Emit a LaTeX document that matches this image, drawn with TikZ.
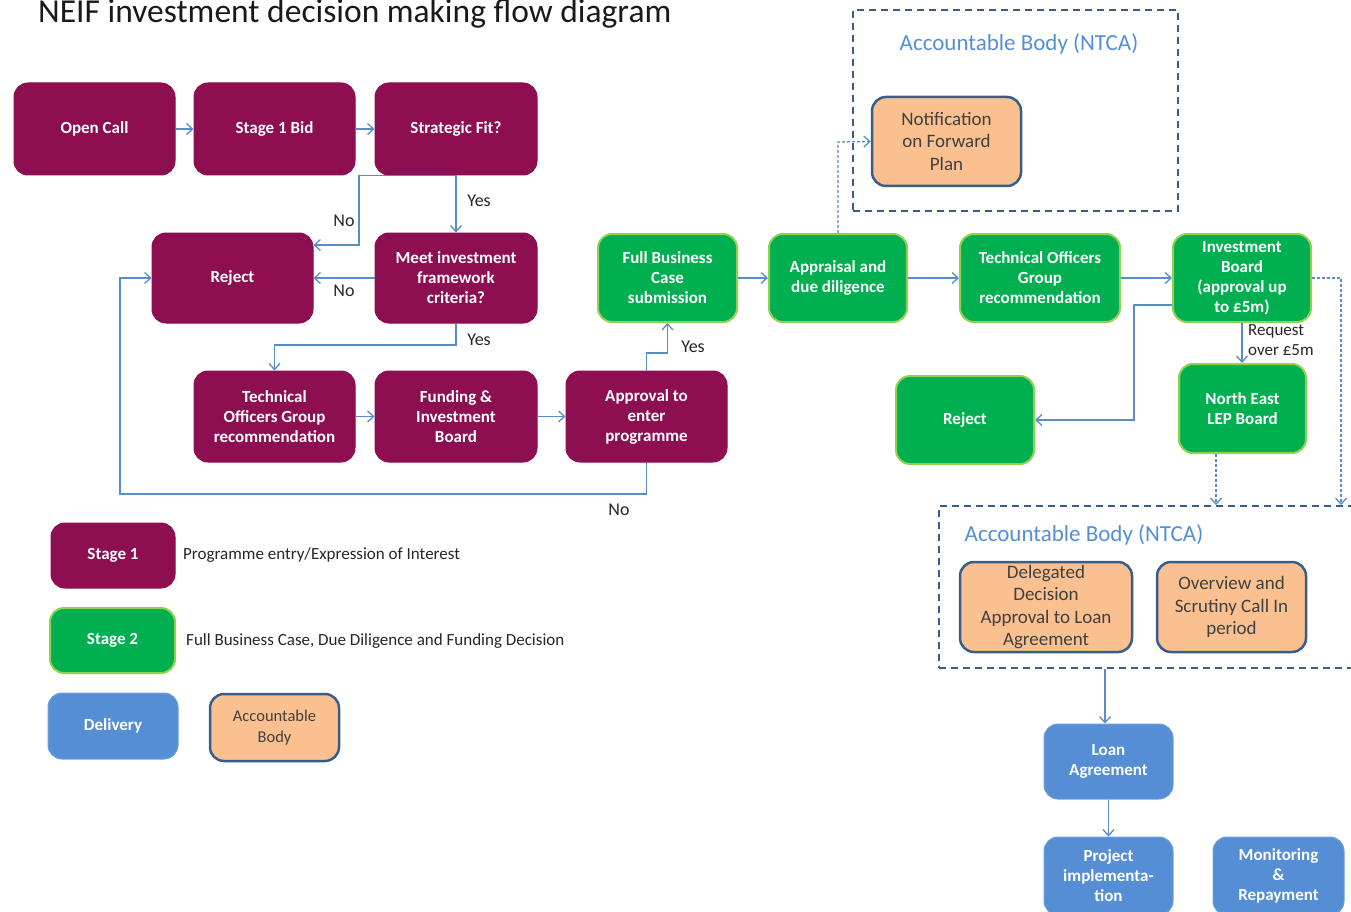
\documentclass[tikz,border=0pt]{standalone}
\usepackage{fontspec}
\setmainfont{Carlito}
\usetikzlibrary{arrows.meta}
\definecolor{pur}{RGB}{142,14,82}
\definecolor{grn}{RGB}{0,176,80}
\definecolor{grnl}{RGB}{146,208,80}
\definecolor{blu}{RGB}{85,142,213}
\definecolor{org}{RGB}{250,192,144}
\definecolor{dbl}{RGB}{56,93,138}
\definecolor{conn}{RGB}{90,140,200}
\definecolor{txtg}{RGB}{64,64,64}
\begin{document}
\begin{tikzpicture}[x=1pt,y=-1pt,
  base/.style={rounded corners=14pt, align=center, inner sep=2pt, font=\fontsize{17}{20}\selectfont\bfseries, text=white},
  purbox/.style={base, fill=pur, draw=pur, line width=1pt},
  grnbox/.style={base, fill=grn, draw=grnl, line width=2pt},
  blubox/.style={base, fill=blu, draw=blu!85!white, line width=1pt},
  orbox/.style={base, fill=org, draw=dbl, line width=2.5pt, font=\fontsize{19}{22.5}\selectfont, text=txtg},
  abox/.style={draw=dbl, line width=2pt, dash pattern=on 7pt off 5pt, inner sep=0pt},
  arr/.style={draw=conn, line width=1.3pt, -{Straight Barb[length=6pt,width=11pt]}},
  darr/.style={arr, dash pattern=on 3pt off 2pt},
  lbl/.style={font=\fontsize{18}{20}\selectfont, text=black!85},
  abtitle/.style={font=\fontsize{23}{25}\selectfont, text=blu}
]
\useasboundingbox (0,0) rectangle (1351,912);
\clip (0,0) rectangle (1351,912);

\node[anchor=base west, font=\fontsize{33.5}{40}\selectfont, text=black!90, inner sep=0pt] (title) at (38,23) {NEIF investment decision making flow diagram};

% accountable body boxes
\node[abox, minimum width=325pt, minimum height=201pt] (ab1) at (1015.5,110.5) {};
\node[abtitle] (ab1t) at (1019,44) {Accountable Body (NTCA)};
\node[abox, minimum width=421pt, minimum height=162pt] (ab2) at (1149.5,587) {};
\node[abtitle] (ab2t) at (1084,535) {Accountable Body (NTCA)};

% stage 1
\node[purbox, minimum width=161pt, minimum height=92pt] (open) at (94.5,129) {Open Call};
\node[purbox, minimum width=161pt, minimum height=92pt] (bid) at (274.5,129) {Stage 1 Bid};
\node[purbox, minimum width=162pt, minimum height=92pt] (fit) at (456,129) {Strategic Fit?};
\node[purbox, minimum width=161pt, minimum height=90pt] (rej1) at (232.5,278) {Reject};
\node[purbox, minimum width=162pt, minimum height=90pt] (meet) at (456,278) {Meet investment\\framework\\criteria?};
\node[purbox, minimum width=161pt, minimum height=91pt] (tog1) at (274.5,416.5) {Technical\\Officers Group\\recommendation};
\node[purbox, minimum width=162pt, minimum height=91pt] (fund) at (456,416.5) {Funding \&\\Investment\\Board};
\node[purbox, minimum width=161pt, minimum height=91pt] (appr) at (646.5,416.5) {Approval to\\enter\\programme};

% stage 2
\node[grnbox, minimum width=139pt, minimum height=88pt] (fbc) at (667.5,278) {Full Business\\Case\\submission};
\node[grnbox, minimum width=138pt, minimum height=88pt] (appd) at (838,278) {Appraisal and\\due diligence};
\node[grnbox, minimum width=160pt, minimum height=88pt] (tog2) at (1040,278) {Technical Officers\\Group\\recommendation};
\node[grnbox, minimum width=138pt, minimum height=88pt] (ib) at (1242,278) {Investment\\Board\\(approval up\\to £5m)};
\node[grnbox, minimum width=138pt, minimum height=88pt] (rej2) at (965,420) {Reject};
\node[grnbox, minimum width=127pt, minimum height=89pt] (ne) at (1242.5,408.5) {North East\\LEP Board};

% accountable body
\node[orbox, minimum width=149pt, minimum height=89pt] (notif) at (946.5,141.5) {Notification\\on Forward\\Plan};
\node[orbox, minimum width=172pt, minimum height=90pt] (deleg) at (1046,607) {Delegated\\Decision\\Approval to Loan\\Agreement};
\node[orbox, minimum width=149pt, minimum height=90pt] (over) at (1231.5,607) {Overview and\\Scrutiny Call In\\period};

% delivery
\node[blubox, minimum width=129pt, minimum height=75pt] (loan) at (1108.5,761.5) {Loan\\Agreement};
\node[blubox, minimum width=129pt, minimum height=78pt] (proj) at (1108.5,876) {Project\\implementa-\\tion};
\node[blubox, minimum width=131pt, minimum height=78pt] (mon) at (1278.5,876) {Monitoring\\\&\\Repayment};

% legend
\node[purbox, minimum width=124pt, minimum height=65pt] (l1) at (113,555.5) {Stage 1};
\node[grnbox, minimum width=125pt, minimum height=65pt] (l2) at (112.5,640.5) {Stage 2};
\node[blubox, minimum width=130pt, minimum height=66pt] (l3) at (113,726) {Delivery};
\node[orbox, minimum width=129pt, minimum height=67pt, font=\fontsize{16.5}{21}\selectfont] (l4) at (274.5,727.5) {Accountable\\Body};
\node[anchor=west, inner sep=0pt, font=\fontsize{17}{20}\selectfont, text=black!85] (l1t) at (183,555) {Programme entry/Expression of Interest};
\node[anchor=west, inner sep=0pt, font=\fontsize{17}{20}\selectfont, text=black!85] (l2t) at (186,641) {Full Business Case, Due Diligence and Funding Decision};

% connectors stage 1
\draw[arr] (open.east) -- (bid.west);
\draw[arr] (bid.east) -- (fit.west);
\draw[arr] (fit.south) -- (meet.north);
\node[lbl] (y1) at (479,201) {Yes};
\draw[arr] (fit.south) -| (359,245) -- (rej1.east |- 0,245);
\node[lbl] (n1) at (344,221) {No};
\draw[arr] (meet.west) -- (rej1.east);
\node[lbl] (n2) at (344,291) {No};
\draw[arr] (meet.south) -- (meet.south |- 0,345) -| (tog1.north);
\node[lbl] (y2) at (479,340) {Yes};
\draw[arr] (tog1.east) -- (fund.west);
\draw[arr] (fund.east) -- (appr.west);
\draw[arr] (appr.north) -- (appr.north |- 0,353) -| (fbc.south);
\node[lbl] (y3) at (693,347) {Yes};
\draw[arr] (appr.south) -- (appr.south |- 0,494) -- (120,494) |- (rej1.west);
\node[lbl] (n3) at (619,510) {No};

% connectors stage 2
\draw[arr] (fbc.east) -- (appd.west);
\draw[arr] (appd.east) -- (tog2.west);
\draw[arr] (tog2.east) -- (ib.west);
\draw[darr] (appd.north) -- (appd.north |- 0,142) -- (notif.west);
\draw[arr] (ib.west |- 0,305) -- (1134,305) |- (rej2.east);
\draw[arr] (ib.south) -- (ib.south |- ne.north);
\node[anchor=west, inner sep=0pt, font=\fontsize{17}{20}\selectfont, text=black!85, align=left] (req) at (1248,340) {Request\\over £5m};
\draw[darr] (ib.east) -- (1341,278) -- (1341,0 |- ab2.north);
\draw[darr] (1216,0 |- ne.south) -- (1216,0 |- ab2.north);
\draw[arr] (1105,0 |- ab2.south) -- (1105,0 |- loan.north);
\draw[arr] (loan.south) -- (proj.north);
\end{tikzpicture}
\end{document}
